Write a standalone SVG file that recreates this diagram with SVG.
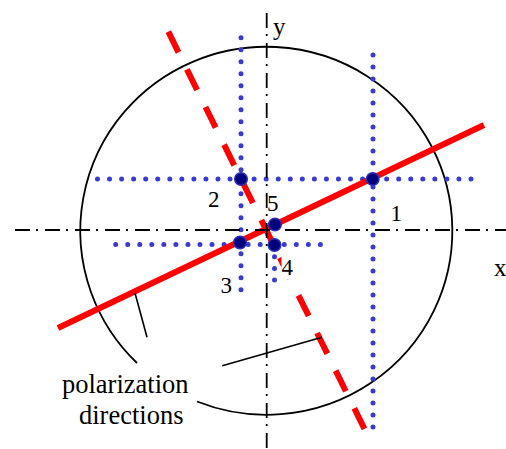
<svg xmlns="http://www.w3.org/2000/svg" width="506" height="449" viewBox="0 0 506 449">
<style>
.axis{fill:none;stroke:#000;stroke-width:1.8;stroke-dasharray:15 6 2 7}
.dots{fill:none;stroke:#3a3ad2;stroke-width:5;stroke-linecap:round}
.red{fill:none;stroke:#ff0000;stroke-width:6}
.lead{fill:none;stroke:#000;stroke-width:1.6}
.pt{fill:#00007c;stroke:#2f2fb8;stroke-width:1.5}
</style>
<rect width="506" height="449" fill="#fff"/>
<g id="circle">
<path d="M 137 363 A 186 184 0 1 1 197 401.5" fill="none" stroke="#000" stroke-width="1.8"/>
</g>
<g id="dotted-lines">
<line class="dots" x1="97.5" y1="179" x2="471" y2="179" stroke-dasharray="0 12.048"/>
<line class="dots" x1="115.7" y1="244.5" x2="320.4" y2="244.5" stroke-dasharray="0 12.04"/>
<line class="dots" x1="241" y1="37.7" x2="241" y2="289.7" stroke-dasharray="0 12"/>
<line class="dots" x1="373" y1="55" x2="373" y2="439" stroke-dasharray="0 12"/>
<line class="dots" x1="274.5" y1="245" x2="274.5" y2="280.1" stroke-dasharray="0 11.7"/>
</g>
<g id="polarization-lines">
<line class="red" x1="58" y1="328" x2="484" y2="125"/>
<line class="red" x1="168.3" y1="31.7" x2="365" y2="430" stroke-dasharray="23 19"/>
</g>
<g id="axes">
<line class="axis" x1="15" y1="230" x2="506" y2="230"/>
<line class="axis" x1="266.7" y1="13" x2="266.7" y2="449"/>
</g>
<g id="connectors">
<line class="lead" x1="135" y1="293" x2="147" y2="337.3"/>
<line class="lead" x1="222.3" y1="365.7" x2="322" y2="337.3"/>
</g>
<g id="point-1"><circle class="pt" cx="372.7" cy="179" r="6.3"/><text x="390.5" y="221" font-family="Liberation Serif" font-size="23">1</text></g>
<g id="point-2"><circle class="pt" cx="241" cy="179" r="6.3"/><text x="208" y="207" font-family="Liberation Serif" font-size="23">2</text></g>
<g id="point-3"><circle class="pt" cx="240" cy="242.5" r="6.3"/><text x="220.5" y="293" font-family="Liberation Serif" font-size="23">3</text></g>
<g id="point-4"><circle class="pt" cx="274.5" cy="245" r="6.3"/><rect x="281.5" y="255" width="16" height="24" fill="#fff"/><text x="281.5" y="275" font-family="Liberation Serif" font-size="23">4</text></g>
<g id="point-5"><circle class="pt" cx="275" cy="224.5" r="6.3"/><text x="267" y="210.5" font-family="Liberation Serif" font-size="23">5</text></g>
<g id="axis-labels">
<text x="273" y="35" font-family="Liberation Serif" font-size="25">y</text>
<text x="494" y="276" font-family="Liberation Serif" font-size="25">x</text>
</g>
<g id="caption">
<text x="62" y="393" font-family="Liberation Serif" font-size="26.5">polarization</text>
<text x="79" y="424" font-family="Liberation Serif" font-size="26.5">directions</text>
</g>
</svg>
